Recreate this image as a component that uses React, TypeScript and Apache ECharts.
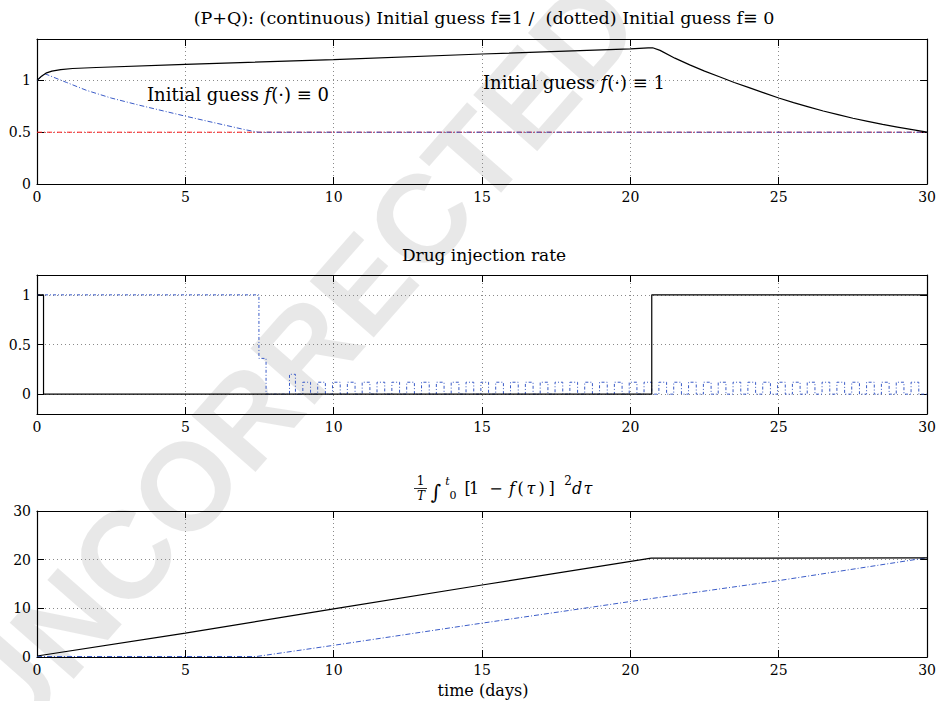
import React, { useEffect, useRef } from "react";
import * as echarts from "echarts";

// ---------- data ----------
const xTicks = [0, 5, 10, 15, 20, 25, 30];
const fTicks = [0, 0.5, 1];
const injTicks = [0, 0.5, 1];
const costTicks = [0, 10, 20, 30];

// panel 1 : tumour fraction P+Q
const fContT = [0, 0.15, 0.3, 0.5, 0.8, 1.2, 2, 5, 10, 15, 20, 20.6, 20.75, 21, 21.5, 22, 22.5, 23, 23.5, 24, 24.5, 25, 25.5, 26, 26.5, 27, 27.5, 28, 28.5, 29, 29.5, 30];
const fContV = [1, 1.04, 1.07, 1.09, 1.105, 1.115, 1.125, 1.155, 1.2, 1.255, 1.305, 1.314, 1.315, 1.29, 1.215, 1.15, 1.09, 1.035, 0.98, 0.93, 0.88, 0.83, 0.785, 0.745, 0.705, 0.67, 0.635, 0.605, 0.575, 0.55, 0.525, 0.5];
const fDotT = [0, 0.27, 1, 1.67, 2.5, 3.46, 5, 6, 7, 7.45, 30];
const fDotV = [1, 1.064, 0.98, 0.904, 0.83, 0.76, 0.655, 0.59, 0.525, 0.5, 0.5];
const refT = [0, 30];
const refV = [0.5, 0.5];

// panel 2 : drug injection rate (step changes: time, new value)
const injContT = [0, 0.22, 20.72];
const injContV = [1, 0, 1];
const injDotT = [0, 7.48, 7.72, 8.51, 8.71];
const injDotV = [1, 0.36, 0, 0.2, 0];
const pulseStarts = [8.96, 9.46, 9.96, 10.46, 10.96, 11.46, 11.96, 12.46, 12.96, 13.46, 13.96, 14.46, 14.96, 15.46, 15.96, 16.46, 16.96, 17.46, 17.96, 18.46, 18.96, 19.46, 19.96, 20.46, 20.96, 21.46, 21.96, 22.46, 22.96, 23.46, 23.96, 24.46, 24.96, 25.46, 25.96, 26.46, 26.96, 27.46, 27.96, 28.46, 28.96, 29.46];
const pulseWidth = 0.26;
const pulseHeight = 0.12;
const tEnd = 30;

// panel 3 : cost integral
const costContT = [0, 5, 10, 15, 20.7, 30];
const costContV = [0.2, 4.9, 9.9, 14.8, 20.3, 20.35];
const costDotT = [0, 7.4, 10, 14.6, 20, 25, 30];
const costDotV = [0.1, 0.1, 2.4, 6.6, 11.4, 15.7, 20.4];

// ---------- helpers ----------
const pairs = (t: number[], v: number[]) => t.map((x, i) => [x, v[i]]);

function stepPairs(t: number[], v: number[], end: number) {
  const out: number[][] = [];
  for (let i = 0; i < t.length; i++) {
    if (i > 0) out.push([t[i], v[i - 1]]);
    out.push([t[i], v[i]]);
  }
  out.push([end, v[v.length - 1]]);
  return out;
}

function dotInjection() {
  const out: number[][] = [];
  for (let i = 0; i < injDotT.length; i++) {
    if (i > 0) out.push([injDotT[i], injDotV[i - 1]]);
    out.push([injDotT[i], injDotV[i]]);
  }
  pulseStarts.forEach((s) => {
    out.push([s, 0], [s, pulseHeight], [s + pulseWidth, pulseHeight], [s + pulseWidth, 0]);
  });
  out.push([tEnd, 0]);
  return out;
}

const SERIF = "DejaVu Serif, Liberation Serif, serif";
const GRID_L = 37;
const GRID_R = 10;
const grids = [
  { top: 39, height: 145 },
  { top: 275, height: 139 },
  { top: 511, height: 146 },
];

function axesFor(gi: number, min: number, max: number, ticks: number[]) {
  const lineStyle = { color: "#000", width: 1.2 };
  const tick = { show: true, inside: true, length: 7, lineStyle: { color: "#000", width: 1 } };
  const grid = { show: true, lineStyle: { color: "#8a8a8a", width: 1, type: [1, 3] as any } };
  const xs = [
    {
      type: "value", gridIndex: gi, position: "bottom", min: 0, max: 30, interval: 5,
      axisLine: { show: true, onZero: false, lineStyle },
      axisTick: tick,
      axisLabel: { show: true, color: "#000", fontFamily: SERIF, fontSize: 14, margin: 6, customValues: xTicks },
      splitLine: grid,
    },
    {
      type: "value", gridIndex: gi, position: "top", min: 0, max: 30, interval: 5,
      axisLine: { show: true, onZero: false, lineStyle },
      axisTick: tick,
      axisLabel: { show: false },
      splitLine: { show: false },
    },
  ];
  const ys = [
    {
      type: "value", gridIndex: gi, position: "left", min, max,
      axisLine: { show: true, onZero: false, lineStyle },
      axisTick: { ...tick, customValues: ticks },
      axisLabel: { show: true, color: "#000", fontFamily: SERIF, fontSize: 14, margin: 6, customValues: ticks },
      splitLine: grid,
    },
    {
      type: "value", gridIndex: gi, position: "right", min, max,
      axisLine: { show: true, onZero: false, lineStyle },
      axisTick: { ...tick, customValues: ticks },
      axisLabel: { show: false },
      splitLine: { show: false },
    },
  ];
  return { xs, ys };
}

function line(gi: number, data: number[][], color: string, type: any, width = 1, z = 3) {
  return {
    type: "line",
    xAxisIndex: gi * 2,
    yAxisIndex: gi * 2,
    data,
    showSymbol: false,
    symbol: "none",
    z,
    lineStyle: { color, width, type },
    silent: true,
  };
}

const BLUE = "#3a5bc7";
const RED = "#ff1a1a";
const DASHDOT = [5, 2, 1, 2];
const DOTTED = [3, 2, 1, 2];

function txt(text: string, x: number, y: number, size: number, opts: any = {}) {
  return {
    type: "text",
    x,
    y,
    z: 20,
    style: {
      text,
      fill: "#000",
      font: `${opts.italic ? "italic " : ""}${size}px ${opts.family || SERIF}`,
      textAlign: opts.align || "center",
      textVerticalAlign: "middle",
    },
  };
}

function annotation(label: string, x: number, y: number) {
  return {
    type: "text", x, y, z: 20,
    style: {
      text: `{r|Initial guess }{i|f}{r|(\u00b7) \u2261 ${label}}`,
      textVerticalAlign: "middle",
      rich: {
        r: { fontFamily: SERIF, fontSize: 18, color: "#000" },
        i: { fontFamily: SERIF, fontSize: 18, fontStyle: "italic", color: "#000" },
      },
    },
  };
}

export default function App() {
  const ref = useRef<HTMLDivElement>(null);
  useEffect(() => {
    if (!ref.current) return;
    const chart = echarts.init(ref.current, null, { renderer: "svg" });
    const a1 = axesFor(0, 0, 1.4, fTicks);
    const a2 = axesFor(1, -0.2, 1.2, injTicks);
    const a3 = axesFor(2, 0, 30, costTicks);

    const option: any = {
      animation: false,
      backgroundColor: "#fff",
      textStyle: { fontFamily: SERIF },
      grid: grids.map((g) => ({ left: GRID_L, right: GRID_R, top: g.top, height: g.height, containLabel: false })),
      xAxis: [...a1.xs, ...a2.xs, ...a3.xs],
      yAxis: [...a1.ys, ...a2.ys, ...a3.ys],
      series: [
        line(0, pairs(refT, refV), RED, DASHDOT, 1, 3),
        line(0, pairs(fDotT, fDotV), BLUE, DASHDOT, 1, 4),
        line(0, pairs(fContT, fContV), "#000", "solid", 1.2, 5),
        line(1, dotInjection(), BLUE, DOTTED, 1, 4),
        line(1, stepPairs(injContT, injContV, tEnd), "#000", "solid", 1.2, 5),
        line(2, pairs(costDotT, costDotV), BLUE, DASHDOT, 1, 4),
        line(2, pairs(costContT, costContV), "#000", "solid", 1.2, 5),
      ],
      graphic: [
        {
          type: "text",
          x: 295,
          y: 362,
          rotation: 0.85,
          z: -100,
          silent: true,
          style: {
            text: "UNCORRECTED",
            fill: "rgba(0,0,0,0.09)",
            font: "bold 124px Liberation Sans, Arial, sans-serif",
            textAlign: "center",
            textVerticalAlign: "middle",
          },
        },
        txt("(P+Q): (continuous) Initial guess f\u22611 /  (dotted) Initial guess f\u2261 0", 484, 18, 17.5),
        txt("Drug injection rate", 484, 255, 17),
        annotation("0", 147, 94),
        annotation("1", 483, 82),
        // panel 3 title formula
        txt("1", 420.5, 481, 12),
        { type: "line", z: 20, shape: { x1: 414, y1: 488.5, x2: 427, y2: 488.5 }, style: { stroke: "#000", lineWidth: 0.8 } },
        txt("T", 421, 496, 12, { italic: true }),
        txt("\u222b", 436, 492, 20),
        txt("t", 447.5, 481, 11, { italic: true }),
        txt("0", 453, 495, 11),
        txt("[", 467.5, 488, 16),
        txt("1", 474, 488, 16),
        txt("\u2212", 496, 488, 16),
        txt("f", 512, 488, 16, { italic: true }),
        txt("(", 520.5, 488, 16),
        txt("\u03c4", 531, 488, 16, { italic: true }),
        txt(")", 541.5, 488, 16),
        txt("]", 551.5, 488, 16),
        txt("2", 568, 481, 12),
        txt("d", 577, 488, 16, { italic: true }),
        txt("\u03c4", 588, 488, 16, { italic: true }),
        // x axis name
        txt("time (days)", 483, 690, 16),
      ],
    };
    chart.setOption(option);
    return () => chart.dispose();
  }, []);
  return (
    <div
      ref={ref}
      style={{ position: "fixed", left: 0, top: 0, width: 939, height: 701, background: "#fff" }}
    />
  );
}
